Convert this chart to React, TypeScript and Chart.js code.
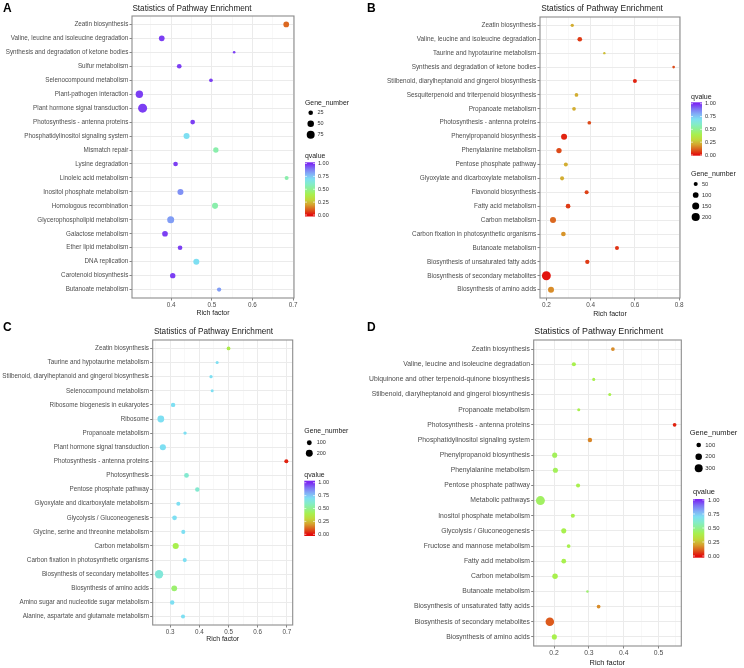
import React, { useEffect, useRef } from "react";
import { Chart, registerables } from "chart.js";

Chart.register(...registerables);

const FONT = '"Liberation Sans", Arial, Helvetica, sans-serif';

// ---------------- Panel A data ----------------
const pathwaysA = [
  "Zeatin biosynthesis",
  "Valine, leucine and isoleucine degradation",
  "Synthesis and degradation of ketone bodies",
  "Sulfur metabolism",
  "Selenocompound metabolism",
  "Plant-pathogen interaction",
  "Plant hormone signal transduction",
  "Photosynthesis - antenna proteins",
  "Phosphatidylinositol signaling system",
  "Mismatch repair",
  "Lysine degradation",
  "Linoleic acid metabolism",
  "Inositol phosphate metabolism",
  "Homologous recombination",
  "Glycerophospholipid metabolism",
  "Galactose metabolism",
  "Ether lipid metabolism",
  "DNA replication",
  "Carotenoid biosynthesis",
  "Butanoate metabolism",
];
const richA = [0.683, 0.377, 0.555, 0.42, 0.498, 0.322, 0.33, 0.453, 0.438, 0.51, 0.411, 0.684, 0.423, 0.508, 0.399, 0.385, 0.422, 0.462, 0.404, 0.518];
const genesA = [38, 38, 8, 26, 16, 65, 96, 26, 43, 34, 26, 19, 43, 43, 58, 38, 26, 43, 34, 22];
const qA = [0.12, 0.97, 0.97, 0.97, 0.97, 0.97, 0.97, 0.97, 0.7, 0.55, 0.97, 0.55, 0.85, 0.55, 0.83, 0.97, 0.97, 0.7, 0.97, 0.83];
const xMajorA = [0.4, 0.5, 0.6, 0.7];
const xMinorA = [0.35, 0.45, 0.55, 0.65];
const sizeBreaksA = [25, 50, 75];

// ---------------- Panel B data ----------------
const pathwaysB = [
  "Zeatin biosynthesis",
  "Valine, leucine and isoleucine degradation",
  "Taurine and hypotaurine metabolism",
  "Synthesis and degradation of ketone bodies",
  "Stilbenoid, diarylheptanoid and gingerol biosynthesis",
  "Sesquiterpenoid and triterpenoid biosynthesis",
  "Propanoate metabolism",
  "Photosynthesis - antenna proteins",
  "Phenylpropanoid biosynthesis",
  "Phenylalanine metabolism",
  "Pentose phosphate pathway",
  "Glyoxylate and dicarboxylate metabolism",
  "Flavonoid biosynthesis",
  "Fatty acid metabolism",
  "Carbon metabolism",
  "Carbon fixation in photosynthetic organisms",
  "Butanoate metabolism",
  "Biosynthesis of unsaturated fatty acids",
  "Biosynthesis of secondary metabolites",
  "Biosynthesis of amino acids",
];
const richB = [0.317, 0.351, 0.462, 0.775, 0.6, 0.336, 0.325, 0.394, 0.28, 0.257, 0.288, 0.271, 0.382, 0.298, 0.23, 0.277, 0.519, 0.385, 0.2, 0.221];
const genesB = [34, 66, 17, 21, 49, 41, 41, 41, 109, 86, 49, 49, 49, 66, 109, 66, 49, 57, 240, 109];
const qB = [0.22, 0.06, 0.25, 0.08, 0.03, 0.22, 0.22, 0.08, 0.03, 0.08, 0.22, 0.22, 0.07, 0.06, 0.12, 0.18, 0.05, 0.06, 0.01, 0.17];
const xMajorB = [0.2, 0.4, 0.6, 0.8];
const xMinorB = [0.3, 0.5, 0.7];
const sizeBreaksB = [50, 100, 150, 200];

// ---------------- Panel C data ----------------
const pathwaysC = [
  "Zeatin biosynthesis",
  "Taurine and hypotaurine metabolism",
  "Stilbenoid, diarylheptanoid and gingerol biosynthesis",
  "Selenocompound metabolism",
  "Ribosome biogenesis in eukaryotes",
  "Ribosome",
  "Propanoate metabolism",
  "Plant hormone signal transduction",
  "Photosynthesis - antenna proteins",
  "Photosynthesis",
  "Pentose phosphate pathway",
  "Glyoxylate and dicarboxylate metabolism",
  "Glycolysis / Gluconeogenesis",
  "Glycine, serine and threonine metabolism",
  "Carbon metabolism",
  "Carbon fixation in photosynthetic organisms",
  "Biosynthesis of secondary metabolites",
  "Biosynthesis of amino acids",
  "Amino sugar and nucleotide sugar metabolism",
  "Alanine, aspartate and glutamate metabolism",
];
const richC = [0.5, 0.461, 0.44, 0.444, 0.31, 0.268, 0.351, 0.275, 0.698, 0.356, 0.393, 0.328, 0.315, 0.345, 0.319, 0.35, 0.262, 0.314, 0.307, 0.344];
const genesC = [58, 39, 45, 39, 82, 193, 48, 156, 69, 94, 82, 69, 94, 69, 156, 69, 290, 139, 82, 69];
const qC = [0.38, 0.7, 0.7, 0.7, 0.7, 0.7, 0.7, 0.7, 0.03, 0.62, 0.62, 0.7, 0.7, 0.7, 0.4, 0.7, 0.64, 0.45, 0.7, 0.7];
const xMajorC = [0.3, 0.4, 0.5, 0.6, 0.7];
const xMinorC = [0.25, 0.35, 0.45, 0.55, 0.65];
const sizeBreaksC = [100, 200];

// ---------------- Panel D data ----------------
const pathwaysD = [
  "Zeatin biosynthesis",
  "Valine, leucine and isoleucine degradation",
  "Ubiquinone and other terpenoid-quinone biosynthesis",
  "Stilbenoid, diarylheptanoid and gingerol biosynthesis",
  "Propanoate metabolism",
  "Photosynthesis - antenna proteins",
  "Phosphatidylinositol signaling system",
  "Phenylpropanoid biosynthesis",
  "Phenylalanine metabolism",
  "Pentose phosphate pathway",
  "Metabolic pathways",
  "Inositol phosphate metabolism",
  "Glycolysis / Gluconeogenesis",
  "Fructose and mannose metabolism",
  "Fatty acid metabolism",
  "Carbon metabolism",
  "Butanoate metabolism",
  "Biosynthesis of unsaturated fatty acids",
  "Biosynthesis of secondary metabolites",
  "Biosynthesis of amino acids",
];
const richD = [0.369, 0.257, 0.314, 0.36, 0.271, 0.546, 0.303, 0.202, 0.204, 0.269, 0.161, 0.254, 0.228, 0.242, 0.228, 0.203, 0.296, 0.328, 0.188, 0.201];
const genesD = [66, 79, 44, 44, 44, 66, 93, 123, 123, 79, 380, 79, 123, 66, 107, 141, 30, 66, 343, 123];
const qD = [0.17, 0.4, 0.4, 0.4, 0.4, 0.03, 0.16, 0.42, 0.42, 0.4, 0.43, 0.4, 0.4, 0.4, 0.4, 0.4, 0.45, 0.17, 0.1, 0.4];
const xMajorD = [0.2, 0.3, 0.4, 0.5];
const xMinorD = [0.15, 0.25, 0.35, 0.45, 0.55];
const sizeBreaksD = [100, 200, 300];

const qBreaks = [1, 0.75, 0.5, 0.25, 0];

// ---------------- colour scale ----------------
const Q_STOPS: [number, string][] = [
  [0.0, "#E30B0B"],
  [0.1, "#DC5A1C"],
  [0.2, "#D6A22E"],
  [0.3, "#C2D83C"],
  [0.4, "#A8F04E"],
  [0.5, "#90F090"],
  [0.6, "#84ECC8"],
  [0.7, "#7EDFF2"],
  [0.8, "#82AEF6"],
  [0.9, "#7E74F4"],
  [1.0, "#7B28F2"],
];
function hexRgb(h: string) {
  return [parseInt(h.slice(1, 3), 16), parseInt(h.slice(3, 5), 16), parseInt(h.slice(5, 7), 16)];
}
function qColor(q: number) {
  for (let i = 0; i < Q_STOPS.length - 1; i++) {
    const [a, ca] = Q_STOPS[i];
    const [b, cb] = Q_STOPS[i + 1];
    if (q <= b || i === Q_STOPS.length - 2) {
      const t = Math.max(0, Math.min(1, (q - a) / (b - a)));
      const A = hexRgb(ca), B = hexRgb(cb);
      const c = A.map((v, k) => Math.round(v + (B[k] - v) * t));
      return `rgb(${c[0]},${c[1]},${c[2]})`;
    }
  }
  return Q_STOPS[0][1];
}

// ---------------- layout ----------------
type Panel = {
  letter: string;
  letterPos: [number, number];
  box: [number, number, number, number];
  area: { l: number; r: number; t: number; b: number };
  pathways: string[];
  rich: number[];
  genes: number[];
  q: number[];
  xMajor: number[];
  xMinor: number[];
  sizeBreaks: number[];
  k: number;
  s: number;
  title: [number, number];
  xTitle: [number, number];
  gene: { x: number; y: number; cx: number; cy: number[]; lx: number };
  qv: { x: number; y: number; bx: number; bw: number; bt: number; bb: number; v1: number; v0: number; lx: number };
};

const panels: Panel[] = [
  {
    letter: "A", letterPos: [3, 12], box: [0, 0, 372, 320],
    area: { l: 132, r: 294, t: 16, b: 298 },
    pathways: pathwaysA, rich: richA, genes: genesA, q: qA,
    xMajor: xMajorA, xMinor: xMinorA, sizeBreaks: sizeBreaksA, k: 0.46, s: 1,
    title: [192, 11], xTitle: [213, 315],
    gene: { x: 305, y: 104.5, cx: 310.7, cy: [112.7, 123.7, 134.7], lx: 317.5 },
    qv: { x: 305, y: 158, bx: 305, bw: 10, bt: 162.3, bb: 216.5, v1: 163.5, v0: 215, lx: 318 },
  },
  {
    letter: "B", letterPos: [367, 12], box: [362, 0, 382, 320],
    area: { l: 540, r: 680, t: 17, b: 298 },
    pathways: pathwaysB, rich: richB, genes: genesB, q: qB,
    xMajor: xMajorB, xMinor: xMinorB, sizeBreaks: sizeBreaksB, k: 0.287, s: 1.02,
    title: [602, 11], xTitle: [610, 315.5],
    qv: { x: 691, y: 98.5, bx: 691, bw: 11, bt: 102.3, bb: 155.7, v1: 103.7, v0: 155, lx: 705 },
    gene: { x: 691, y: 176, cx: 695.7, cy: [184, 195, 206, 217], lx: 702 },
  },
  {
    letter: "C", letterPos: [3, 331], box: [0, 320, 362, 348],
    area: { l: 152.7, r: 292.7, t: 340, b: 625 },
    pathways: pathwaysC, rich: richC, genes: genesC, q: qC,
    xMajor: xMajorC, xMinor: xMinorC, sizeBreaks: sizeBreaksC, k: 0.245, s: 1,
    title: [213.5, 333.5], xTitle: [222.7, 641],
    gene: { x: 304.3, y: 433, cx: 309.3, cy: [442.7, 453.3], lx: 316.7 },
    qv: { x: 304.3, y: 477, bx: 304.3, bw: 10.7, bt: 480.7, bb: 536, v1: 482.7, v0: 534.3, lx: 318.3 },
  },
  {
    letter: "D", letterPos: [367, 331], box: [362, 320, 382, 348],
    area: { l: 533.7, r: 681.3, t: 340, b: 646 },
    pathways: pathwaysD, rich: richD, genes: genesD, q: qD,
    xMajor: xMajorD, xMinor: xMinorD, sizeBreaks: sizeBreaksD, k: 0.23, s: 1.08,
    title: [598.7, 334], xTitle: [607.3, 665],
    gene: { x: 689.7, y: 435, cx: 698.7, cy: [445, 456.7, 468.3], lx: 705.3 },
    qv: { x: 693, y: 494, bx: 693, bw: 11.3, bt: 499, bb: 557.7, v1: 500, v0: 556, lx: 708 },
  },
];

const isIn = (arr: number[], v: number) => arr.some((a) => Math.abs(a - v) < 1e-9);

function makeDecor(p: Panel) {
  const [x0, y0] = p.box;
  return {
    id: "decor" + p.letter,
    afterDraw(chart: any) {
      const ctx: CanvasRenderingContext2D = chart.ctx;
      const ca = chart.chartArea;
      ctx.save();
      // panel border
      ctx.strokeStyle = "#8C8C8C";
      ctx.lineWidth = 1.1;
      ctx.strokeRect(ca.left, ca.top, ca.right - ca.left, ca.bottom - ca.top);

      const X = (v: number) => v - x0;
      const Y = (v: number) => v - y0;

      // letter
      ctx.fillStyle = "#000";
      ctx.font = `bold 12px ${FONT}`;
      ctx.textAlign = "left";
      ctx.textBaseline = "alphabetic";
      ctx.fillText(p.letter, X(p.letterPos[0]), Y(p.letterPos[1]));

      // title
      ctx.font = `${8.2 * p.s}px ${FONT}`;
      ctx.textAlign = "center";
      ctx.fillStyle = "#1a1a1a";
      ctx.fillText("Statistics of Pathway Enrichment", X(p.title[0]), Y(p.title[1]));

      // x axis title
      ctx.font = `${6.9 * p.s}px ${FONT}`;
      ctx.fillText("Rich factor", X(p.xTitle[0]), Y(p.xTitle[1]));

      // gene number legend
      ctx.textAlign = "left";
      ctx.fillStyle = "#1a1a1a";
      ctx.font = `${6.9 * p.s}px ${FONT}`;
      ctx.fillText("Gene_number", X(p.gene.x), Y(p.gene.y));
      p.sizeBreaks.forEach((g, i) => {
        ctx.fillStyle = "#000";
        ctx.beginPath();
        ctx.arc(X(p.gene.cx), Y(p.gene.cy[i]), p.k * Math.sqrt(g), 0, Math.PI * 2);
        ctx.fill();
        ctx.fillStyle = "#333";
        ctx.font = `${5.5 * p.s}px ${FONT}`;
        ctx.textBaseline = "middle";
        ctx.fillText(String(g), X(p.gene.lx), Y(p.gene.cy[i]));
        ctx.textBaseline = "alphabetic";
      });

      // qvalue legend
      ctx.fillStyle = "#1a1a1a";
      ctx.font = `${6.9 * p.s}px ${FONT}`;
      ctx.fillText("qvalue", X(p.qv.x), Y(p.qv.y));
      const grad = ctx.createLinearGradient(0, Y(p.qv.v0), 0, Y(p.qv.v1));
      Q_STOPS.forEach(([v, c]) => grad.addColorStop(v, c));
      ctx.fillStyle = grad;
      ctx.fillRect(X(p.qv.bx), Y(p.qv.bt), p.qv.bw, p.qv.bb - p.qv.bt);
      ctx.strokeStyle = "#ffffff";
      ctx.lineWidth = 0.6;
      ctx.font = `${5.5 * p.s}px ${FONT}`;
      ctx.textBaseline = "middle";
      qBreaks.forEach((qb) => {
        const yy = Y(p.qv.v0 + (p.qv.v1 - p.qv.v0) * qb);
        ctx.beginPath();
        ctx.moveTo(X(p.qv.bx), yy);
        ctx.lineTo(X(p.qv.bx) + 2, yy);
        ctx.moveTo(X(p.qv.bx) + p.qv.bw - 2, yy);
        ctx.lineTo(X(p.qv.bx) + p.qv.bw, yy);
        ctx.stroke();
        ctx.fillStyle = "#333";
        ctx.fillText(qb.toFixed(2), X(p.qv.lx), yy);
      });
      ctx.restore();
    },
  };
}

function PanelChart({ p }: { p: Panel }) {
  const ref = useRef<HTMLCanvasElement>(null);
  const [x0, y0, w, h] = p.box;
  useEffect(() => {
    const n = p.pathways.length;
    const lo = Math.min(...p.rich);
    const hi = Math.max(...p.rich);
    const ex = (hi - lo) * 0.05;
    const fs = 6.3 * p.s;
    const allX = [...p.xMajor, ...p.xMinor].sort((a, b) => a - b);
    const chart = new Chart(ref.current as HTMLCanvasElement, {
      type: "scatter",
      data: {
        datasets: [
          {
            data: p.rich.map((x, i) => ({ x, y: i })),
            pointRadius: (c: any) => p.k * Math.sqrt(p.genes[c.dataIndex]),
            pointHoverRadius: (c: any) => p.k * Math.sqrt(p.genes[c.dataIndex]),
            pointBackgroundColor: (c: any) => qColor(p.q[c.dataIndex]),
            pointBorderWidth: 0,
            pointBorderColor: "rgba(0,0,0,0)",
            showLine: false,
          } as any,
        ],
      },
      options: {
        animation: false,
        responsive: false,
        maintainAspectRatio: false,
        devicePixelRatio: 1,
        events: [],
        layout: { padding: { left: 0, right: x0 + w - p.area.r, top: p.area.t - y0, bottom: 0 } },
        plugins: { legend: { display: false }, tooltip: { enabled: false }, title: { display: false } },
        scales: {
          x: {
            type: "linear",
            bounds: "data",
            min: lo - ex,
            max: hi + ex,
            afterBuildTicks: (ax: any) => {
              ax.ticks = allX.map((v) => ({ value: v }));
            },
            afterFit: (s: any) => {
              s.height = y0 + h - p.area.b;
            },
            ticks: {
              autoSkip: false,
              maxRotation: 0,
              padding: 1,
              color: "#4D4D4D",
              font: { family: FONT, size: fs },
              callback: (v: any) => (isIn(p.xMajor, Number(v)) ? Number(v).toFixed(1) : ""),
            },
            grid: {
              color: (c: any) => (c.tick && isIn(p.xMajor, c.tick.value) ? "#EBEBEB" : "#F3F3F3"),
              lineWidth: (c: any) => (c.tick && isIn(p.xMajor, c.tick.value) ? 1 : 0.6),
              tickColor: (c: any) => (c.tick && isIn(p.xMajor, c.tick.value) ? "#666" : "rgba(0,0,0,0)"),
              tickLength: 2.5,
              tickWidth: 0.8,
              drawTicks: true,
            },
            border: { display: false },
          } as any,
          y: {
            type: "linear",
            bounds: "data",
            reverse: true,
            min: -0.6,
            max: n - 1 + 0.6,
            afterBuildTicks: (ax: any) => {
              ax.ticks = p.pathways.map((_, i) => ({ value: i }));
            },
            afterFit: (s: any) => {
              s.width = p.area.l - x0;
            },
            ticks: {
              autoSkip: false,
              padding: 1.2,
              color: "#4D4D4D",
              font: { family: FONT, size: fs },
              callback: (v: any) => p.pathways[Number(v)],
            },
            grid: {
              color: "#EBEBEB",
              lineWidth: 1,
              tickColor: "#666",
              tickLength: 2.5,
              tickWidth: 0.8,
              drawTicks: true,
            },
            border: { display: false },
          } as any,
        },
      },
      plugins: [makeDecor(p)],
    });
    return () => chart.destroy();
  }, []);
  return (
    <canvas
      ref={ref}
      width={w}
      height={h}
      style={{ position: "absolute", left: x0, top: y0, width: w, height: h }}
    />
  );
}

export default function App() {
  return (
    <div style={{ position: "fixed", left: 0, top: 0, width: 744, height: 668, background: "#fff", overflow: "hidden" }}>
      {panels.map((p) => (
        <PanelChart key={p.letter} p={p} />
      ))}
    </div>
  );
}
